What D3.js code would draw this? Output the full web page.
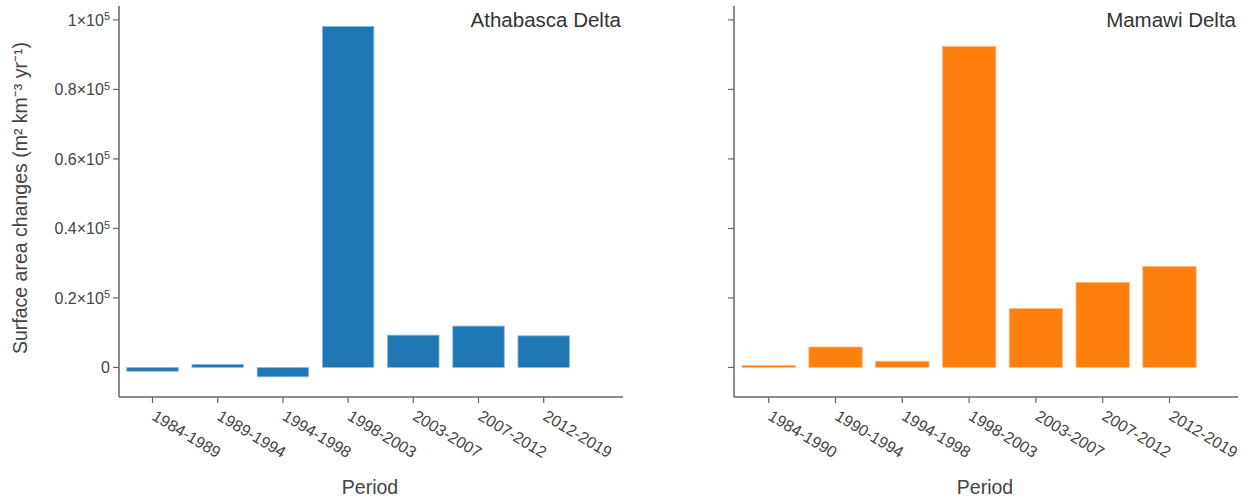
<!DOCTYPE html>
<html>
<head>
<meta charset="utf-8">
<script src="https://cdn.jsdelivr.net/npm/d3@7"></script>
<style>
body { margin: 0; background: #fff; }
svg { font-family: "Liberation Sans", Arial, sans-serif; }
</style>
</head>
<body>
<svg id="chart" width="1248" height="499"></svg>
<script>
// periods and surface area change per delta (m2 km-3 yr-1)
var athabascaPeriods = ["1984-1989", "1989-1994", "1994-1998", "1998-2003", "2003-2007", "2007-2012", "2012-2019"];
var athabascaValues = [-1100, 900, -2700, 98100, 9300, 11900, 9100];
var mamawiPeriods = ["1984-1990", "1990-1994", "1994-1998", "1998-2003", "2003-2007", "2007-2012", "2012-2019"];
var mamawiValues = [600, 5900, 1800, 92400, 17000, 24500, 29100];
var yTicks = [0, 20000, 40000, 60000, 80000, 100000];
var yTickLabels = ["0", "0.2", "0.4", "0.6", "0.8", "1"];

var svg = d3.select("#chart");
var axisColor = "#666", textColor = "#444";

var y = d3.scaleLinear().domain([-8500, 104000]).range([397, 6]);

var panels = [
  { name: "Athabasca Delta", periods: athabascaPeriods, values: athabascaValues,
    color: "#1f77b4", stroke: "#8fbbe0", x0: 119, x1: 623, first: 152.5, step: 65.2, pad: 0.21, labels: true },
  { name: "Mamawi Delta", periods: mamawiPeriods, values: mamawiValues,
    color: "#ff7f0e", stroke: "#ffc08a", x0: 734, x1: 1238, first: 768.7, step: 66.8, pad: 0.2, labels: false }
];

panels.forEach(function(p) {
  var g = svg.append("g");
  var start = p.first - p.step / 2;
  var x = d3.scaleBand().domain(p.periods)
    .range([start, start + p.step * p.periods.length])
    .paddingInner(p.pad).paddingOuter(p.pad / 2);

  // bars
  g.selectAll("rect.bar").data(p.values).enter().append("rect")
    .attr("class", "bar")
    .attr("x", function(d, i) { return x(p.periods[i]); })
    .attr("width", x.bandwidth())
    .attr("y", function(d) { return y(Math.max(0, d)); })
    .attr("height", function(d) { return Math.abs(y(d) - y(0)); })
    .attr("fill", p.color)
    .attr("stroke", p.stroke)
    .attr("stroke-width", 0.8);

  // y axis
  g.append("line").attr("x1", p.x0).attr("x2", p.x0).attr("y1", 6).attr("y2", 397)
    .attr("stroke", axisColor).attr("stroke-width", 1.5);
  var yt = g.selectAll("g.yt").data(yTicks).enter().append("g")
    .attr("transform", function(d) { return "translate(" + p.x0 + "," + y(d) + ")"; });
  yt.append("line").attr("x1", -6).attr("x2", 0).attr("stroke", axisColor).attr("stroke-width", 1.2);
  if (p.labels) {
    var lab = yt.append("text").attr("x", -9).attr("dy", "0.35em")
      .attr("text-anchor", "end").attr("fill", textColor).style("font-size", "16px");
    lab.each(function(d, i) {
      var t = d3.select(this);
      if (d === 0) { t.text("0"); return; }
      t.append("tspan").text(yTickLabels[i] + "×10");
      t.append("tspan").text("5").attr("dy", "-0.5em").style("font-size", "11px");
    });
  }

  // x axis
  g.append("line").attr("x1", p.x0).attr("x2", p.x1).attr("y1", 397).attr("y2", 397)
    .attr("stroke", axisColor).attr("stroke-width", 1.5);
  var xt = g.selectAll("g.xt").data(p.periods).enter().append("g")
    .attr("transform", function(d) { return "translate(" + (x(d) + x.bandwidth() / 2) + ",397)"; });
  xt.append("line").attr("y1", 0).attr("y2", 6).attr("stroke", axisColor).attr("stroke-width", 1.2);
  xt.append("text").text(function(d) { return d; })
    .attr("transform", "translate(5,11) rotate(31)")
    .attr("dy", "0.8em")
    .attr("fill", textColor).style("font-size", "16px");

  // titles
  g.append("text").text(p.name).attr("x", p.x1 - 2).attr("y", 27)
    .attr("text-anchor", "end").attr("fill", "#333").style("font-size", "20.5px");
  g.append("text").text("Period").attr("x", (p.x0 + p.x1) / 2 - 1).attr("y", 494)
    .attr("text-anchor", "middle").attr("fill", textColor).style("font-size", "19.5px");
});

svg.append("text")
  .attr("transform", "translate(27,198) rotate(-90)")
  .attr("text-anchor", "middle").attr("fill", textColor).style("font-size", "19.5px")
  .text("Surface area changes (m² km⁻³ yr⁻¹)");
</script>
</body>
</html>
